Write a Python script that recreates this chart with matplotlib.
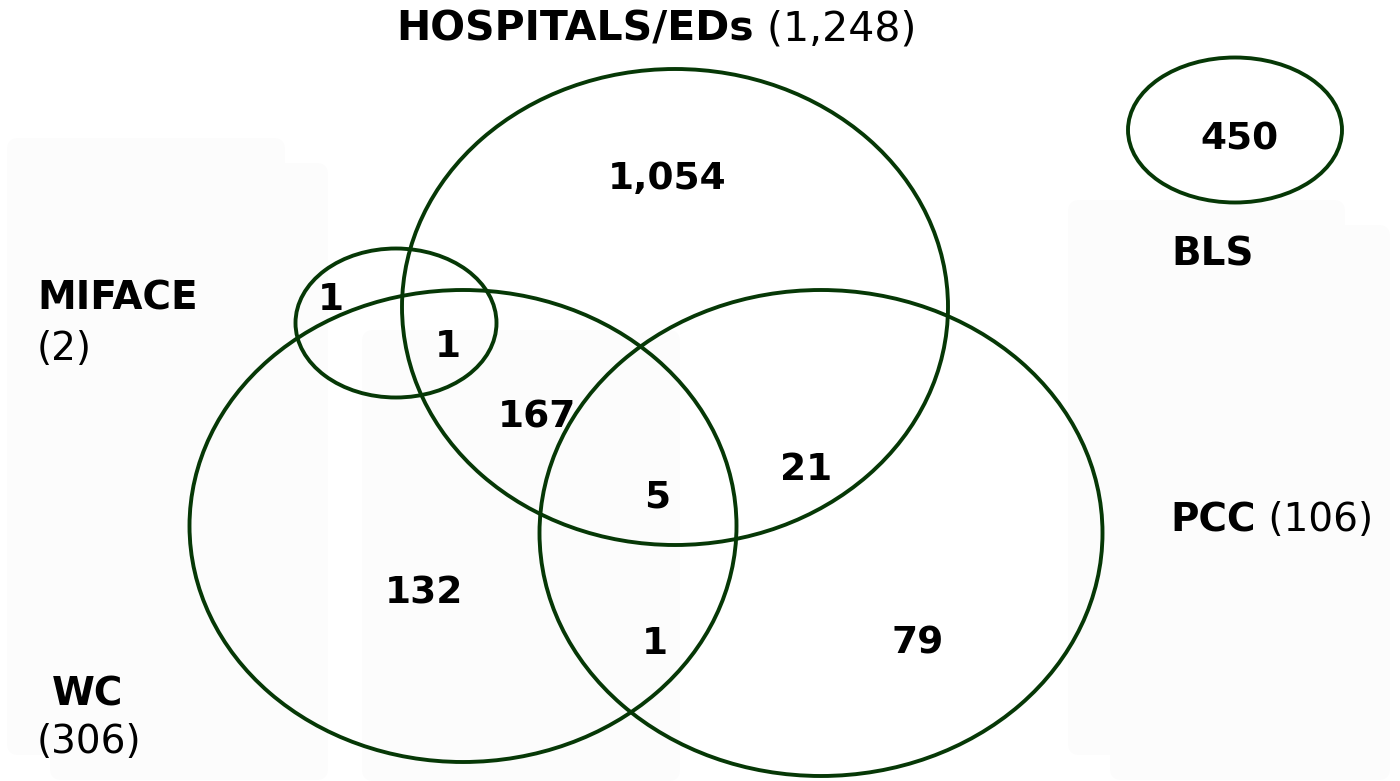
import matplotlib
matplotlib.use("Agg")
import matplotlib.pyplot as plt
from matplotlib.patches import Ellipse, FancyBboxPatch

# ---- data ----
set_names = ["HOSPITALS/EDs", "WC", "PCC", "MIFACE", "BLS"]
set_totals = ["(1,248)", "(306)", "(106)", "(2)", ""]
region_labels = ["1,054", "1", "1", "167", "21", "5", "132", "1", "79", "450"]

# ---- layout (pixel coordinates, y downward) ----
W, H = 1400, 781
fig = plt.figure(figsize=(W / 100, H / 100), dpi=100)
ax = fig.add_axes([0, 0, 1, 1])
ax.set_xlim(0, W)
ax.set_ylim(H, 0)
ax.axis("off")

# faint background panels
for (x0, y0, x1, y1) in [(7, 138, 285, 755), (50, 163, 328, 780),
                         (1068, 200, 1345, 755), (1110, 225, 1390, 780),
                         (362, 330, 680, 781)]:
    ax.add_patch(FancyBboxPatch((x0, y0), x1 - x0, y1 - y0,
                                boxstyle="round,pad=0,rounding_size=12",
                                fc="#fcfcfc", ec="none", zorder=0))

edge = "#063806"
ellipses = {  # center x, center y, width, height
    "HOSPITALS/EDs": (675, 307, 546, 476),
    "WC": (463, 526, 547, 472),
    "PCC": (821, 533, 563, 486),
    "MIFACE": (396, 323, 201, 149),
    "BLS": (1235, 130, 214, 145),
}
for name in set_names:
    cx, cy, w, h = ellipses[name]
    ax.add_patch(Ellipse((cx, cy), w, h, fill=False, ec=edge, lw=2.8, zorder=2))

num_pos = [(667, 175), (331, 296), (448, 343), (537, 414), (806, 466),
           (657, 493), (424, 589), (655, 640), (918, 639), (1239, 135)]
fam = "DejaVu Sans"
for lab, (x, y) in zip(region_labels, num_pos):
    ax.text(x, y, lab, ha="center", va="center_baseline", fontsize=27,
            fontweight="bold", family=fam, color="black", zorder=3)

lsize = 28


def label(x, y, bold, regular, ha="left", size=lsize):
    t = ax.text(x, y, bold, ha=ha, va="center_baseline", fontsize=size,
                fontweight="bold", family=fam, zorder=3)
    if regular:
        ax.annotate(" " + regular, xy=(1, 0), xycoords=t, ha="left",
                    va="bottom", fontsize=size, family=fam, zorder=3)
    return t


label(396, 25, set_names[0], set_totals[0], size=29.5)
label(37, 295, set_names[3], "")
ax.text(37, 345, set_totals[3], ha="left", va="center_baseline",
        fontsize=lsize, family=fam)
label(88, 690, set_names[1], "", ha="center")
ax.text(37, 738, set_totals[1], ha="left", va="center_baseline",
        fontsize=lsize, family=fam)
label(1213, 250, set_names[4], "", ha="center")
label(1170, 516, set_names[2], set_totals[2])

fig.savefig("out.png", dpi=100, facecolor="white")
